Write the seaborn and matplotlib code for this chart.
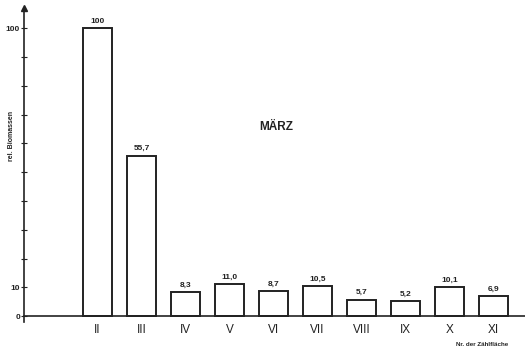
import matplotlib
matplotlib.use("Agg")
import matplotlib.pyplot as plt
import seaborn as sns

# --- DATA ---
flaechen = ["II", "III", "IV", "V", "VI", "VII", "VIII", "IX", "X", "XI"]
biomasse = [100, 55.7, 8.3, 11.0, 8.7, 10.5, 5.7, 5.2, 10.1, 6.9]
wert_labels = ["100", "55,7", "8,3", "11,0", "8,7", "10,5", "5,7", "5,2", "10,1", "6,9"]
y_ticks = list(range(0, 101, 10))
y_ticklabels = ["0", "10", "", "", "", "", "", "", "", "", "100"]

sns.set_style("ticks")
plt.rcParams['font.family'] = ['Liberation Sans', 'DejaVu Sans']
INK = "#222222"

fig = plt.figure(figsize=(5.25, 3.48), dpi=100)
ax = fig.add_axes([0.046, 0.075, 0.954, 0.902])

sns.barplot(x=flaechen, y=biomasse, color="white", edgecolor=INK,
            linewidth=1.4, width=0.66, ax=ax, saturation=1)

# value labels above bars
for i, (v, t) in enumerate(zip(biomasse, wert_labels)):
    ax.text(i, v + 1.2, t, ha="center", va="bottom", fontsize=6,
            fontweight="bold", color=INK)

ax.set_xlim(-1.67, 9.72)
ax.set_ylim(-2, 107)
ax.set_yticks(y_ticks, y_ticklabels, fontweight="bold")
ax.set_xticks(range(len(flaechen)), flaechen, fontweight="bold")
ax.tick_params(axis="y", direction="inout", length=4, width=0.8, colors=INK,
               labelsize=6, pad=1)
ax.tick_params(axis="x", length=0, labelsize=8.5, pad=6, colors=INK)

sns.despine(ax=ax, top=True, right=True)
ax.spines["bottom"].set_position(("data", 0))
for s in ("bottom", "left"):
    ax.spines[s].set_linewidth(1.2)
    ax.spines[s].set_color(INK)

# arrow head on the y axis
ax.plot(0, 1, marker="^", color=INK, markersize=4, transform=ax.transAxes,
        clip_on=False)

ax.set_ylabel("")
fig.text(0.022, 0.61, "rel. Biomassen", rotation=90, ha="center", va="center",
         fontsize=5, fontweight="bold", color=INK)
fig.text(0.527, 0.635, "MÄRZ", ha="center", va="center", fontsize=8.5,
         fontweight="bold", color=INK)
fig.text(0.918, 0.002, "Nr. der Zählfläche", ha="center", va="bottom",
         fontsize=4.5, fontweight="bold", color=INK)

fig.savefig("out.png", dpi=100)
